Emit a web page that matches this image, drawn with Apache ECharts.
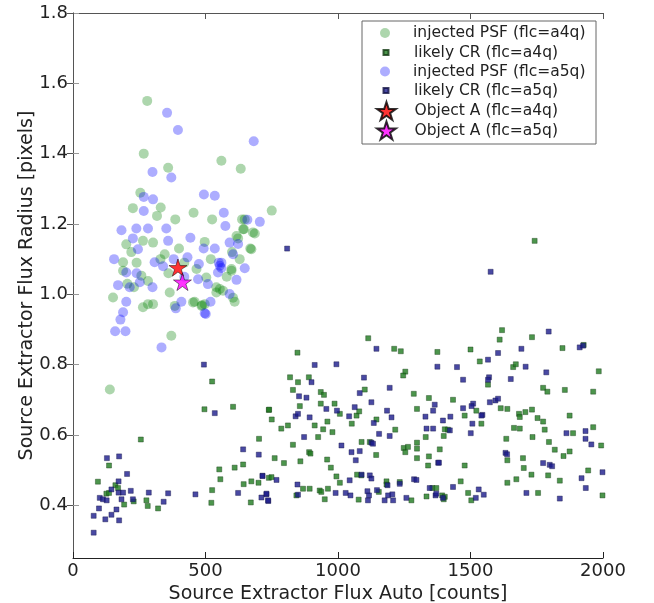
<!DOCTYPE html>
<html>
<head>
<meta charset="utf-8">
<script src="https://cdn.jsdelivr.net/npm/echarts@6/dist/echarts.min.js"></script>
<style>
  html, body { margin: 0; padding: 0; background: #fff; }
  #chart { width: 654px; height: 603px; }
</style>
</head>
<body>
<div id="chart"></div>
<script>
// injected PSF, flc=a4q  [flux auto, flux radius]
const psfA4q = [
  [280,1.55],[267,1.40],[359,1.36],[560,1.38],[633,1.357],[254,1.289],[226,1.245],[331,1.247],
  [317,1.223],[386,1.213],[455,1.232],[525,1.213],[750,1.238],[638,1.213],[648,1.213],[645,1.185],
  [686,1.173],[623,1.159],[669,1.130],[201,1.142],[264,1.152],[302,1.147],[497,1.149],[617,1.166],
  [673,1.128],[189,1.091],[189,1.067],[346,1.114],[258,1.053],[283,1.038],[466,1.072],[503,1.048],
  [541,1.020],[566,1.010],[598,1.072],[598,1.067],[629,1.100],[604,0.990],[365,1.005],[384,0.967],
  [453,0.977],[485,0.967],[151,0.991],[264,0.963],[302,0.972],[371,0.882],[554,1.015],[139,0.729],
  [283,0.972],[610,0.979],[459,0.979],[487,0.969],[642,1.185],[679,1.176],[220,1.12],[240,1.09],
  [330,1.10],[420,1.09],[360,1.06],[600,1.12],[580,1.05],[520,1.10],[230,1.02],[400,1.13],[205,1.03],
  [541,1.005],[497,0.972]
]
// likely CR, flc=a4q
const crA4q = [
  [525,0.752],[496,0.673],[604,0.680],[739,0.671],[256,0.587],[702,0.589],[94,0.467],[136,0.513],
  [160,0.457],[170,0.449],[126,0.433],[136,0.435],[193,0.402],[229,0.411],[277,0.414],[282,0.398],
  [321,0.391],[525,0.443],[522,0.407],[552,0.502],[556,0.474],[610,0.507],[642,0.516],[644,0.460],
  [673,0.468],[700,0.464],[671,0.408],[739,0.478],
  [1114,0.875],[847,0.834],[1212,0.845],[1237,0.838],[1375,0.836],[819,0.764],[849,0.750],[890,0.764],
  [830,0.728],[935,0.722],[947,0.714],[1101,0.729],[1254,0.780],[1246,0.769],[1286,0.717],[856,0.682],
  [740,0.672],[935,0.689],[987,0.689],[1007,0.660],[1070,0.655],[1080,0.667],[1145,0.644],[1298,0.674],
  [1343,0.705],[750,0.644],[786,0.618],[811,0.627],[912,0.627],[944,0.616],[960,0.638],[979,0.608],
  [1052,0.632],[1216,0.615],[925,0.594],[1331,0.594],[830,0.572],[891,0.551],[896,0.547],[1089,0.580],
  [1120,0.580],[1248,0.563],[1254,0.551],[1264,0.566],[1298,0.578],[1298,0.561],[1144,0.543],[761,0.534],
  [796,0.520],[858,0.525],[959,0.530],[973,0.507],[1298,0.534],[1343,0.539],[1340,0.513],[1072,0.487],
  [1088,0.485],[994,0.482],[749,0.480],[1007,0.464],[868,0.447],[893,0.447],[931,0.442],[937,0.438],
  [962,0.447],[1183,0.468],[1233,0.466],[843,0.428],[950,0.417],[1078,0.416],[1154,0.438],[1183,0.459],
  [1277,0.414],[1334,0.425],
  [1619,0.898],[1610,0.871],[1732,0.878],[1500,0.843],[1535,0.809],[1847,0.847],[1927,0.856],[1661,0.793],
  [1671,0.801],[1984,0.781],[1566,0.743],[1774,0.734],[1790,0.723],[1856,0.728],[1963,0.723],[1434,0.700],
  [1614,0.676],[1639,0.674],[1683,0.660],[1686,0.651],[1707,0.665],[1732,0.672],[1753,0.648],[1774,0.638],
  [1478,0.655],[1522,0.669],[1541,0.632],[1874,0.655],[1963,0.622],[1664,0.620],[1686,0.618],[1780,0.615],
  [1403,0.616],[1415,0.615],[1399,0.597],[1635,0.589],[1734,0.594],[1796,0.580],[1887,0.605],[1818,0.558],
  [1851,0.540],[1874,0.553],[1993,0.570],[1384,0.559],[1639,0.528],[1698,0.534],[1478,0.513],[1701,0.506],
  [1944,0.499],[1730,0.487],[1793,0.485],[1837,0.470],[1673,0.474],[1639,0.464],[1463,0.468],[1356,0.449],
  [1371,0.449],[1393,0.428],[1403,0.424],[1399,0.417],[1491,0.435],[1503,0.414],[1755,0.435],[1998,0.428],
  [1742,1.152]
]
// injected PSF, flc=a5q
const psfA5q = [
  [355,1.516],[396,1.467],[682,1.435],[300,1.348],[371,1.332],[494,1.284],[535,1.280],[267,1.277],
  [302,1.270],[267,1.237],[569,1.232],[575,1.194],[705,1.206],[658,1.212],[183,1.182],[239,1.187],
  [283,1.187],[352,1.187],[226,1.159],[359,1.152],[443,1.161],[493,1.130],[535,1.130],[591,1.147],
  [623,1.143],[604,1.114],[155,1.100],[245,1.128],[308,1.091],[432,1.105],[475,1.086],[554,1.081],
  [547,1.062],[560,1.090],[560,1.075],[550,1.090],[648,1.074],[201,1.062],[170,1.026],[214,1.020],
  [252,1.034],[472,1.043],[509,1.029],[617,1.041],[591,1.001],[201,0.979],[189,0.949],[179,0.928],
  [159,0.895],[198,0.895],[334,0.849],[388,0.960],[409,0.979],[501,0.944],[519,0.979],[340,1.08],
  [380,1.10],[420,1.05],[300,1.02],[240,1.06],[497,0.946]
]
// likely CR, flc=a5q
const crA5q = [
  [494,0.800],[535,0.662],[78,0.322],[78,0.370],[122,0.360],[145,0.373],[174,0.357],[164,0.388],
  [98,0.391],[101,0.421],[113,0.417],[127,0.414],[145,0.445],[172,0.436],[189,0.436],[172,0.468],
  [204,0.489],[128,0.534],[174,0.539],[218,0.441],[226,0.417],[183,0.417],[286,0.436],[342,0.410],
  [359,0.434],[462,0.431],[623,0.435],[642,0.559],[701,0.544],[715,0.484],[730,0.431],[737,0.412],
  [711,0.422],
  [1145,0.845],[912,0.799],[994,0.801],[1375,0.794],[1098,0.763],[900,0.750],[1195,0.734],[1082,0.719],
  [853,0.710],[881,0.706],[1126,0.693],[956,0.674],[996,0.669],[1063,0.679],[1185,0.669],[1365,0.686],
  [1359,0.669],[840,0.653],[849,0.660],[893,0.650],[1042,0.653],[1330,0.652],[1135,0.634],[1202,0.650],
  [1334,0.618],[1359,0.618],[872,0.594],[1155,0.603],[1195,0.597],[1126,0.578],[1132,0.575],[1013,0.570],
  [1051,0.551],[1082,0.554],[1067,0.528],[1378,0.521],[715,0.483],[768,0.472],[1044,0.471],[1089,0.487],
  [1120,0.485],[1126,0.476],[1287,0.474],[1296,0.472],[847,0.459],[730,0.433],[736,0.414],[849,0.430],
  [991,0.435],[1029,0.435],[1111,0.440],[1117,0.428],[1113,0.414],[1147,0.443],[1187,0.457],[1189,0.428],
  [1205,0.431],[1208,0.414],[1176,0.414],[1233,0.461],[1258,0.421],[1346,0.449],[1368,0.428],[1047,0.428],
  [1795,0.894],[1912,0.849],[1925,0.854],[1604,0.833],[1692,0.845],[1566,0.814],[1449,0.793],[1708,0.794],
  [1472,0.757],[1570,0.764],[1566,0.757],[1652,0.759],[1786,0.778],[1472,0.676],[1510,0.689],[1504,0.682],
  [1573,0.693],[1594,0.698],[1604,0.703],[1545,0.657],[1541,0.655],[1424,0.652],[1396,0.641],[1507,0.632],
  [1422,0.613],[1501,0.605],[1862,0.605],[1934,0.611],[1934,0.589],[1956,0.573],[1632,0.549],[1638,0.545],
  [1381,0.521],[1774,0.520],[1799,0.515],[1808,0.511],[1919,0.477],[1935,0.449],[1434,0.452],[1371,0.433],
  [1396,0.421],[1531,0.445],[1520,0.421],[1550,0.430],[1711,0.435],[1837,0.419],[1998,0.494],
  [1576,1.064],[808,1.130]
]
const objA4q = [[396,1.076]]
const objA5q = [[413,1.035]]

const xTicks = [0, 500, 1000, 1500, 2000]
const yTicks = [0.4, 0.6, 0.8, 1.0, 1.2, 1.4, 1.6, 1.8]

const seriesNames = [
  'injected PSF (flc=a4q)', 'likely CR (flc=a4q)',
  'injected PSF (flc=a5q)', 'likely CR (flc=a5q)',
  'Object A (flc=a4q)', 'Object A (flc=a5q)'
]

const STAR = 'path://M50 0L61.23 34.55L97.55 34.55L68.17 55.9L79.39 90.45L50 69.1L20.61 90.45L31.83 55.9L2.45 34.55L38.77 34.55Z'
const SQUARE = 'path://M0 0H10V10H0Z'
const FONT = 'DejaVu Sans'

const chart = echarts.init(document.getElementById('chart'), null, { renderer: 'canvas' })

// one legend per row so each icon keeps its own size;
// legend box is placed by its visible icon edge, so shift by half the icon
const iconX = 385
const legendRows = [
  { icon: 'circle', size: 10, center: 33 },
  { icon: SQUARE, size: 5, center: 52.5 },
  { icon: 'circle', size: 10, center: 71.5 },
  { icon: SQUARE, size: 5, center: 90.5 },
  { icon: STAR, size: 18, center: 110 },
  { icon: STAR, size: 18, center: 129.5 }
]
const legends = legendRows.map((r, i) => ({
  data: [{ name: seriesNames[i], icon: r.icon }],
  left: iconX - r.size / 2,
  top: r.center - 9,
  padding: 0,
  itemWidth: 46,
  itemHeight: r.size,
  symbolKeepAspect: true,
  selectedMode: false,
  textStyle: { fontFamily: FONT, fontSize: 15.5, color: '#222', lineHeight: 18 }
}))

const axisLineStyle = c => ({ show: true, lineStyle: { color: c, width: 1 } })

const option = {
  animation: false,
  backgroundColor: '#fff',
  textStyle: { fontFamily: FONT },
  grid: { left: 73, right: 51, top: 13, bottom: 45, outerBoundsMode: 'none' },
  legend: legends,
  graphic: [{
    type: 'rect',
    shape: { x: 362, y: 21, width: 234, height: 123 },
    style: { fill: 'none', stroke: '#666', lineWidth: 1 },
    z: 10
  }],
  xAxis: [
    {
      type: 'value', min: 0, max: 2000, interval: 500,
      name: 'Source Extractor Flux Auto [counts]',
      nameLocation: 'middle', nameGap: 27, nameMoveOverlap: false,
      nameTextStyle: { fontFamily: FONT, fontSize: 19, color: '#222' },
      axisLine: axisLineStyle('#222'),
      axisTick: { show: true, inside: true, length: 6, lineStyle: { color: '#222' } },
      axisLabel: { fontFamily: FONT, fontSize: 18, color: '#222', margin: 4,
        customValues: xTicks, formatter: v => String(v) },
      splitLine: { show: false }
    },
    {
      type: 'value', min: 0, max: 2000, interval: 500, position: 'top',
      axisLine: axisLineStyle('#555'),
      axisTick: { show: true, inside: true, length: 6, lineStyle: { color: '#555' } },
      axisLabel: { show: false },
      splitLine: { show: false }
    }
  ],
  yAxis: [
    {
      type: 'value', min: 0.25, max: 1.8,
      name: 'Source Extractor Flux Radius [pixels]',
      nameLocation: 'middle', nameGap: 36, nameMoveOverlap: false,
      nameTextStyle: { fontFamily: FONT, fontSize: 19, color: '#222' },
      axisLine: axisLineStyle('#999'),
      axisTick: { show: true, inside: true, length: 6, lineStyle: { color: '#999' },
        customValues: yTicks },
      axisLabel: { fontFamily: FONT, fontSize: 18, color: '#222', margin: 5,
        customValues: yTicks, formatter: v => v.toFixed(1) },
      splitLine: { show: false }
    },
    {
      type: 'value', min: 0.25, max: 1.8, position: 'right',
      axisLine: axisLineStyle('#555'),
      axisTick: { show: true, inside: true, length: 6, lineStyle: { color: '#555' },
        customValues: yTicks },
      axisLabel: { show: false },
      splitLine: { show: false }
    }
  ],
  series: [
    {
      name: seriesNames[0], type: 'scatter', data: psfA4q,
      symbol: 'circle', symbolSize: 10,
      itemStyle: { color: 'rgba(0,128,0,0.4)' }
    },
    {
      name: seriesNames[1], type: 'scatter', data: crA4q,
      symbol: 'rect', symbolSize: 5,
      itemStyle: { color: '#1f7a1f', borderColor: '#133a13', borderWidth: 0.5 }
    },
    {
      name: seriesNames[2], type: 'scatter', data: psfA5q,
      symbol: 'circle', symbolSize: 10,
      itemStyle: { color: 'rgba(0,0,255,0.4)' }
    },
    {
      name: seriesNames[3], type: 'scatter', data: crA5q,
      symbol: 'rect', symbolSize: 5,
      itemStyle: { color: '#1c1c8c', borderColor: '#111144', borderWidth: 0.5 }
    },
    {
      name: seriesNames[4], type: 'scatter', data: objA4q,
      symbol: STAR, symbolSize: 18, symbolKeepAspect: true,
      itemStyle: { color: '#ff0000', borderColor: '#000', borderWidth: 0.6 }
    },
    {
      name: seriesNames[5], type: 'scatter', data: objA5q,
      symbol: STAR, symbolSize: 18, symbolKeepAspect: true,
      itemStyle: { color: '#ff00ff', borderColor: '#000', borderWidth: 0.6 }
    }
  ]
}

chart.setOption(option)
</script>
</body>
</html>
